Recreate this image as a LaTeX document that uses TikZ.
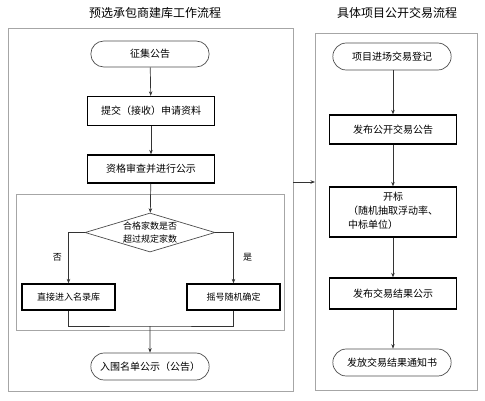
\documentclass[tikz,border=0pt]{standalone}
\usepackage{fontspec}
\setmainfont{Noto Sans CJK SC}
\usetikzlibrary{shapes.geometric,shapes.misc,arrows.meta}

\begin{document}
\begin{tikzpicture}[x=1pt, y=-1pt,
    frame/.style={draw=black!35, line width=0.7pt},
    oval/.style={rounded rectangle, draw=black!70, line width=0.7pt,
        minimum width=125pt, minimum height=26pt, font=\fontsize{10}{12}\selectfont},
    stepbox/.style={rectangle, draw=black, line width=1.3pt,
        minimum width=127pt, minimum height=29pt, font=\fontsize{10}{12}\selectfont},
    smallbox/.style={stepbox, minimum width=93pt, minimum height=26pt,
        font=\fontsize{9}{11}\selectfont},
    decide/.style={diamond, draw=black!70, line width=0.7pt, aspect=3.33,
        minimum width=130pt, minimum height=39pt, inner sep=0pt, align=center,
        font=\fontsize{9}{13}\selectfont},
    flow/.style={-{Stealth[length=4.5pt,width=3.5pt]}, draw=black!80, line width=0.7pt},
    link/.style={draw=black!80, line width=0.7pt},
    title/.style={font=\fontsize{12}{14}\selectfont}]

    \useasboundingbox (0,0) rectangle (485,400);

    % Titles
    \node[title] (lefttitle) at (155,13) {预选承包商建库工作流程};
    \node[title] (righttitle) at (397,13) {具体项目公开交易流程};

    % Frames
    \draw[frame] (8,28) rectangle (293,391);
    \draw[frame] (16,194) rectangle (284,330);
    \draw[frame] (315,33) rectangle (477,390);

    %% Left flow
    \node[oval] (collect) at (150,54) {征集公告};
    \node[stepbox] (submit) at (151,111) {提交（接收）申请资料};
    \node[stepbox, minimum height=28pt] (review) at (151,169) {资格审查并进行公示};
    \node[decide] (check) at (150,232.5) {合格家数是否\\超过规定家数};
    \node[smallbox] (direct) at (68.5,297) {直接进入名录库};
    \node[smallbox] (lottery) at (233.5,297) {摇号随机确定};
    \node[oval, minimum height=27pt] (shortlist) at (150,366.5) {入围名单公示（公告）};
    \coordinate (merge) at (150,326);

    \draw[flow] (collect) -- (submit);
    \draw[flow] (submit) -- (review);
    \draw[flow] (review) -- (check);
    \draw[flow] (check.west) -| node[pos=0.74, left=3pt, font=\fontsize{9}{11}\selectfont] {否} (direct.north);
    \draw[flow] (check.east) -| node[pos=0.74, right=6pt, font=\fontsize{9}{11}\selectfont] {是} (lottery.north);
    \draw[link] (direct.south) |- (merge) -| (lottery.south);
    \draw[flow] (merge) -- (shortlist);

    % Hand-off between the two flows
    \coordinate (leftedge) at (293,182);
    \coordinate (rightedge) at (315,182);
    \draw[flow] (leftedge) -- (rightedge);

    %% Right flow
    \node[oval, minimum height=27pt] (enter) at (392,56.5) {项目进场交易登记};
    \node[stepbox] (announce) at (393,129.5) {发布公开交易公告};
    \node[stepbox, minimum height=50pt, font=\fontsize{10}{14}\selectfont] (opening) at (393,212)
        {\begin{tabular}{@{}l@{}}\multicolumn{1}{@{}c@{}}{开标}\\（随机抽取浮动率、\\中标单位）\end{tabular}};
    \node[stepbox, minimum height=31pt] (result) at (393,293.5) {发布交易结果公示};
    \node[oval, minimum height=27pt] (notice) at (392,362.5) {发放交易结果通知书};

    \draw[flow] (enter.south -| announce) -- (announce);
    \draw[flow] (announce) -- (opening);
    \draw[flow] (opening) -- (result);
    \draw[flow] (result) -- (notice.north -| result);

\end{tikzpicture}
\end{document}
